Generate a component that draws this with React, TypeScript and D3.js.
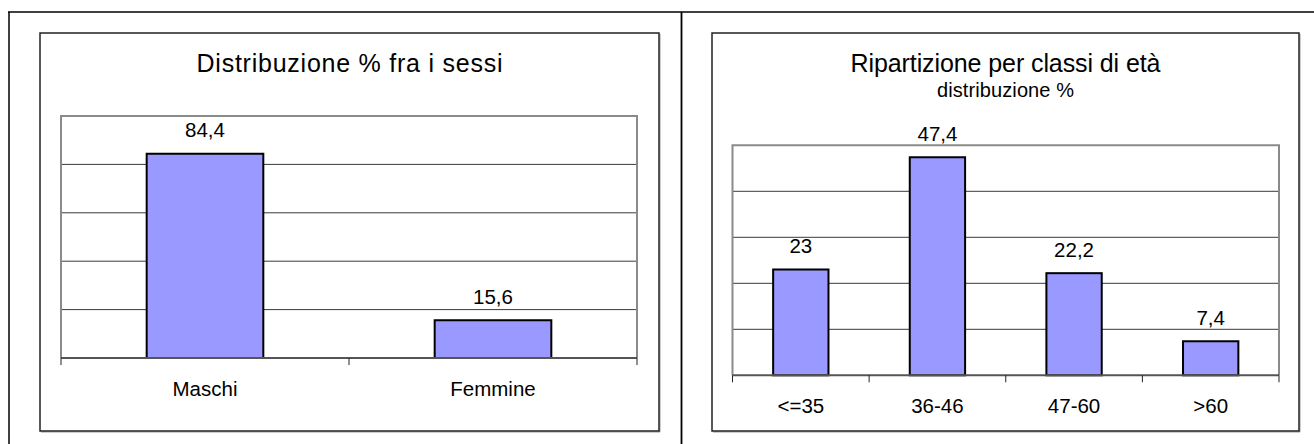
import React from "react";
import * as d3 from "d3";

// Distribution by sex (percent)
const sexCategories = ["Maschi", "Femmine"];
const sexValues = [84.4, 15.6];
const sexTicks = [0, 20, 40, 60, 80, 100];

// Distribution by age class (percent)
const ageCategories = ["<=35", "36-46", "47-60", ">60"];
const ageValues = [23, 47.4, 22.2, 7.4];
const ageTicks = [0, 10, 20, 30, 40, 50];

const FONT = "'Liberation Sans', Arial, Helvetica, sans-serif";
const BAR_FILL = "#9999FF";

const fmt = (v: number) => String(v).replace(".", ",");

type PanelProps = {
  frame: { x0: number; y0: number; x1: number; y1: number };
  plot: { x0: number; y0: number; x1: number; y1: number };
  title: string;
  titleLen: number;
  subtitle?: string;
  subtitleLen?: number;
  categories: string[];
  values: number[];
  ticks: number[];
};

function BarPanel(p: PanelProps) {
  const { frame, plot, categories, values, ticks } = p;
  const x = d3
    .scaleBand<string>()
    .domain(categories)
    .range([plot.x0, plot.x1])
    .paddingInner(0.595)
    .paddingOuter(0.2975);
  const y = d3
    .scaleLinear()
    .domain([ticks[0], ticks[ticks.length - 1]])
    .range([plot.y1, plot.y0]);
  const step = (plot.x1 - plot.x0) / categories.length;
  const boundaries = d3.range(categories.length + 1).map((i) => plot.x0 + i * step);
  const cx = (frame.x0 + frame.x1) / 2;

  return (
    <g fontFamily={FONT} fill="#000">
      {/* chart frame with light shadow */}
      <line x1={frame.x0 + 1} x2={frame.x1 + 1} y1={frame.y1 + 1} y2={frame.y1 + 1} stroke="#999" strokeWidth={1} />
      <line x1={frame.x1 + 1} x2={frame.x1 + 1} y1={frame.y0 + 1} y2={frame.y1 + 1} stroke="#999" strokeWidth={1} />
      <rect
        x={frame.x0}
        y={frame.y0}
        width={frame.x1 - frame.x0}
        height={frame.y1 - frame.y0}
        fill="#fff"
        stroke="#222"
        strokeWidth={1.5}
      />
      <text x={cx} y={72} textAnchor="middle" fontSize={25} textLength={p.titleLen} lengthAdjust="spacing">
        {p.title}
      </text>
      {p.subtitle && (
        <text x={cx} y={97} textAnchor="middle" fontSize={20} textLength={p.subtitleLen} lengthAdjust="spacing">
          {p.subtitle}
        </text>
      )}

      {/* gridlines */}
      {ticks.slice(1, -1).map((t) => (
        <line key={t} x1={plot.x0} x2={plot.x1} y1={y(t)} y2={y(t)} stroke="#3a3a3a" strokeWidth={1} />
      ))}
      {/* plot area border */}
      <path
        d={`M${plot.x0},${plot.y1}V${plot.y0}H${plot.x1}V${plot.y1}`}
        fill="none"
        stroke="#8a8a8a"
        strokeWidth={2}
      />

      {/* bars */}
      {categories.map((c, i) => (
        <rect
          key={c}
          x={x(c)}
          y={y(values[i])}
          width={x.bandwidth()}
          height={y(0) - y(values[i])}
          fill={BAR_FILL}
          stroke="#000"
          strokeWidth={2}
        />
      ))}

      {/* category axis */}
      <line x1={plot.x0} x2={plot.x1} y1={plot.y1} y2={plot.y1} stroke="#555" strokeWidth={2} />
      {boundaries.map((bx, i) => (
        <line key={i} x1={bx} x2={bx} y1={plot.y1} y2={plot.y1 + 7} stroke="#222" strokeWidth={1} />
      ))}
      {categories.map((c) => (
        <text key={c} x={x(c)! + x.bandwidth() / 2} y={plot.y1 + 38} textAnchor="middle" fontSize={20.5}>
          {c}
        </text>
      ))}

      {/* value labels */}
      {categories.map((c, i) => (
        <text key={c} x={x(c)! + x.bandwidth() / 2} y={y(values[i]) - 16.5} textAnchor="middle" fontSize={20.5}>
          {fmt(values[i])}
        </text>
      ))}
    </g>
  );
}

export default function App() {
  return (
    <svg
      width={1314}
      height={444}
      style={{ position: "absolute", left: 0, top: 0, background: "#fff" }}
    >
      <rect x={0} y={0} width={1314} height={444} fill="#fff" />
      {/* table borders */}
      <line x1={8} x2={1314} y1={12} y2={12} stroke="#000" strokeWidth={1.5} />
      <line x1={9} x2={9} y1={12} y2={444} stroke="#000" strokeWidth={1.5} />
      <line x1={681.5} x2={681.5} y1={12} y2={444} stroke="#000" strokeWidth={1.8} />

      <BarPanel
        frame={{ x0: 40, y0: 33, x1: 659, y1: 431 }}
        plot={{ x0: 61, y0: 116, x1: 637, y1: 358 }}
        title="Distribuzione % fra i sessi"
        titleLen={306}
        categories={sexCategories}
        values={sexValues}
        ticks={sexTicks}
      />
      <BarPanel
        frame={{ x0: 712, y0: 33, x1: 1299, y1: 431 }}
        plot={{ x0: 732.5, y0: 145.3, x1: 1279, y1: 375.3 }}
        title="Ripartizione per classi di età"
        titleLen={310}
        subtitle="distribuzione %"
        subtitleLen={137}
        categories={ageCategories}
        values={ageValues}
        ticks={ageTicks}
      />
    </svg>
  );
}
